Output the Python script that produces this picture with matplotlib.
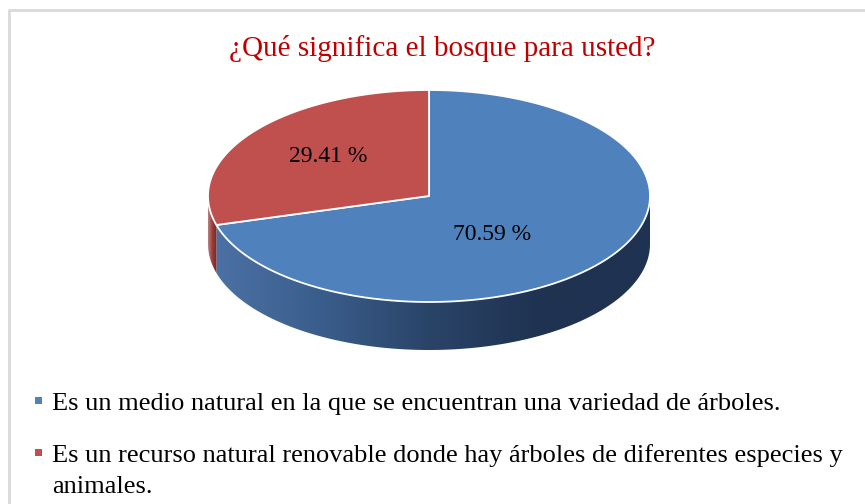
import numpy as np
import matplotlib.pyplot as plt
from matplotlib.patches import Polygon, Rectangle
from matplotlib.colors import LinearSegmentedColormap

plt.rcParams['font.family'] = ['Liberation Serif', 'DejaVu Serif']

# data
title = "¿Qué significa el bosque para usted?"
categories = [
    "Es un medio natural en la que se encuentran una variedad de árboles.",
    "Es un recurso natural renovable donde hay árboles de diferentes especies y\nanimales.",
]
values = [70.59, 29.41]
labels = ["70.59 %", "29.41 %"]
top_colors = ["#4F81BD", "#C0504D"]
side_cmaps = [
    LinearSegmentedColormap.from_list("bs", ["#4d72a6", "#3a5e8c", "#2a4468", "#1f3251", "#1f3251"]),
    LinearSegmentedColormap.from_list("rs", ["#b9827f", "#9a3c3a", "#6e2826"]),
]

W, H = 865, 504
fig = plt.figure(figsize=(W / 100, H / 100), dpi=100)
ax = fig.add_axes([0, 0, 1, 1])
ax.set_xlim(0, W)
ax.set_ylim(H, 0)
ax.axis('off')

# frame
ax.plot([8.5, 8.5, W], [H, 9.5, 9.5], color='#d9d9d9', lw=2, zorder=1)

# pie geometry
cx, cy, a, b, depth = 429, 196, 221, 106, 48


def pt(theta, dy=0.0):
    t = np.radians(theta)
    return cx + a * np.cos(t), cy - b * np.sin(t) + dy


# angles: start at top, go clockwise
angles = []
start = 90.0
for v in values:
    end = start - v / sum(values) * 360.0
    angles.append((start, end))
    start = end

# side walls (front half: theta in [180, 360])
for (s, e), cmap in zip(angles, side_cmaps):
    lo, hi = min(s, e), max(s, e)
    for shift in (0, 360, -360):
        l2, h2 = max(lo + shift, 180), min(hi + shift, 360)
        if h2 <= l2:
            continue
        th = np.linspace(l2, h2, 200)
        xs, ys = pt(th)
        xb, yb = pt(th[::-1], depth)
        verts = np.column_stack([np.r_[xs, xb], np.r_[ys, yb]])
        poly = Polygon(verts, closed=True, facecolor='none', edgecolor='none')
        ax.add_patch(poly)
        grad = np.linspace(0, 1, 256).reshape(1, -1)
        x0 = cx - a if cmap is side_cmaps[0] else verts[:, 0].min()
        x1 = cx + a if cmap is side_cmaps[0] else verts[:, 0].max()
        im = ax.imshow(grad, cmap=cmap, aspect='auto',
                       extent=[x0, x1, verts[:, 1].max(), verts[:, 1].min()],
                       zorder=2)
        im.set_clip_path(poly)

ax.set_xlim(0, W)
ax.set_ylim(H, 0)

# top faces
for (s, e), col in zip(angles, top_colors):
    th = np.linspace(s, e, 300)
    xs, ys = pt(th)
    verts = np.column_stack([np.r_[cx, xs], np.r_[cy, ys]])
    ax.add_patch(Polygon(verts, closed=True, facecolor=col, edgecolor='white',
                         lw=1.3, joinstyle='round', zorder=3))

# data labels
label_pos = [(492, 234), (328, 157)]
for lab, (lx, ly) in zip(labels, label_pos):
    ax.text(lx, ly, lab, fontsize=17, ha='center', va='center', color='black', zorder=4)

# title
ax.text(442, 48, title, fontsize=21, ha='center', va='center', color='#C00000')

# legend (baselines in pixels)
leg_base = [410, 462]
for cat, col, yb in zip(categories, top_colors, leg_base):
    ax.add_patch(Rectangle((35, yb - 13), 7, 7, facecolor=col, edgecolor='none'))
    for i, line in enumerate(cat.split('\n')):
        ax.text(52, yb + i * 31, line, fontsize=19, ha='left', va='baseline',
                color='black')

fig.savefig('out.png', dpi=100)
